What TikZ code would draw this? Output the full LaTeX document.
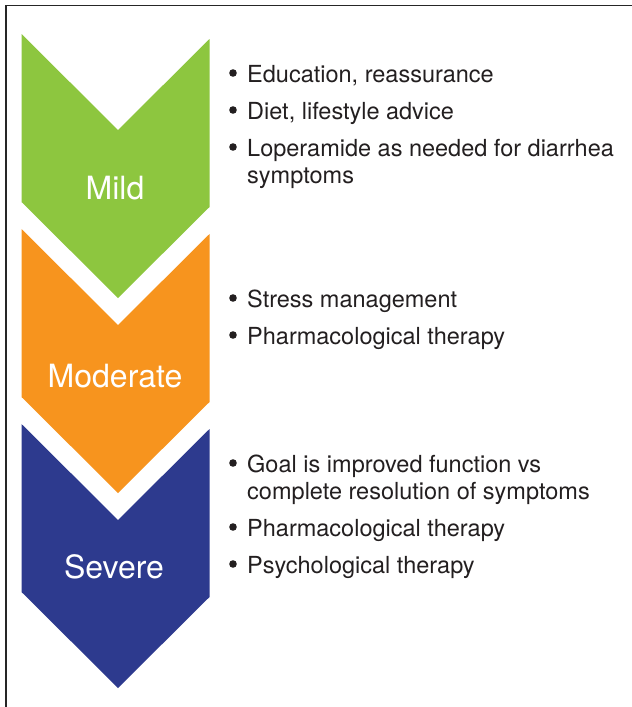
\documentclass[tikz,border=0pt]{standalone}
\usepackage{fontspec}
\setmainfont{TeX Gyre Heros}
\definecolor{mildgreen}{HTML}{8DC63F}
\definecolor{modorange}{HTML}{F7941E}
\definecolor{sevblue}{HTML}{2D3A8E}
\definecolor{txt}{HTML}{231F20}
\begin{document}
\begin{tikzpicture}[x=1pt,y=-1pt,
  lvl/.style={text=white,font=\fontsize{32}{32}\selectfont,inner sep=0pt,anchor=base},
  itm/.style={text=txt,font=\fontsize{23.5}{27}\selectfont,inner sep=0pt,anchor=base west},
  bul/.style={circle,fill=txt,draw=none,minimum size=7.6pt,inner sep=0pt}]
\useasboundingbox (0,0) rectangle (632,707);
\fill[white] (0,0) rectangle (632,707);
% frame (top and left only)
\draw[line width=1.2pt,black!85] (6,707) -- (6,5.5) -- (632,5.5);
% chevrons
\newcommand{\chevron}[2]{%
  \fill[#1] (21.5,#2) -- (118,#2+96) -- (209.5,#2+5) -- (209.5,#2+173) -- (118,#2+264) -- (21.5,#2+168) -- cycle;}
\chevron{mildgreen}{34}
\chevron{modorange}{229}
\chevron{sevblue}{424}
% labels
\node[lvl] (mild) at (115,199) {Mild};
\node[lvl] (moderate) at (115,387.5) {Moderate};
\node[lvl] (severe) at (114,578) {Severe};
% Mild items
\node[bul] (b1) at (233,73) {};
\node[itm] (t1) at (247,82) {Education, reassurance};
\node[bul] (b2) at (233,110) {};
\node[itm] (t2) at (247,119) {Diet, lifestyle advice};
\node[bul] (b3) at (233,147) {};
\node[itm] (t3) at (247,156) {Loperamide as needed for diarrhea};
\node[itm] (t3b) at (247,183) {symptoms};
% Moderate items
\node[bul] (b4) at (233,298) {};
\node[itm] (t4) at (247,307) {Stress management};
\node[bul] (b5) at (233,335) {};
\node[itm] (t5) at (247,344) {Pharmacological therapy};
% Severe items
\node[bul] (b6) at (233,463) {};
\node[itm] (t6) at (247,472) {Goal is improved function vs};
\node[itm] (t6b) at (247,499) {complete resolution of symptoms};
\node[bul] (b7) at (233,527) {};
\node[itm] (t7) at (247,536) {Pharmacological therapy};
\node[bul] (b8) at (233,564) {};
\node[itm] (t8) at (247,573) {Psychological therapy};
\end{tikzpicture}
\end{document}
